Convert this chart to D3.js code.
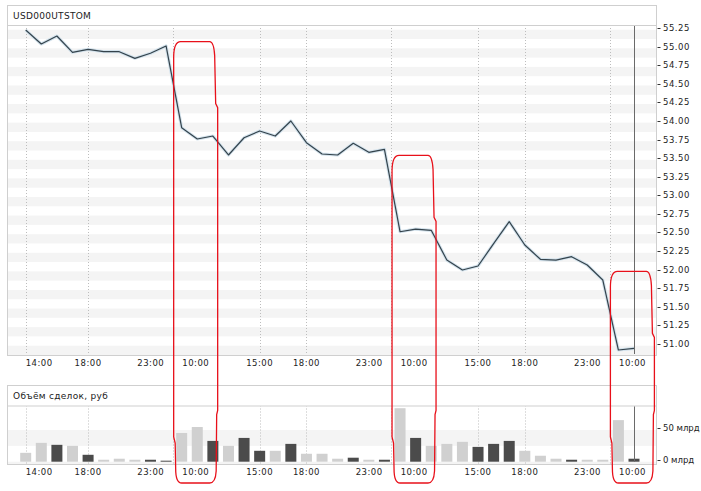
<!DOCTYPE html>
<html>
<head>
<meta charset="utf-8">
<script src="https://cdn.jsdelivr.net/npm/d3@7"></script>
<style>
  body { margin: 0; background: #fff; }
  svg { display: block; }
  text { font-family: "DejaVu Sans", sans-serif; fill: #222; }
</style>
</head>
<body>
<div id="chart"></div>
<script>
// hourly closes USD000UTSTOM
const closes = [
  55.245, 55.058, 55.165, 54.946, 54.986, 54.954, 54.954, 54.865, 54.933, 55.031,
  53.932, 53.780, 53.820, 53.565, 53.797, 53.888, 53.820, 54.022, 53.730, 53.578,
  53.565, 53.722, 53.601, 53.641, 52.533, 52.569, 52.552, 52.152, 52.018, 52.072,
  52.372, 52.668, 52.354, 52.162, 52.152, 52.197, 52.085, 51.883, 50.942, 50.965
];
// volume, bln rub
const volumes = [
  14, 29.7, 26.6, 25, 10.9, 3.1, 4.7, 3.1, 3.1, 1.6,
  45.3, 54.7, 32.8, 25, 37.5, 17.2, 17.2, 28.1, 12.5, 12.5,
  4.7, 6.3, 3.1, 3.1, 84.4, 37.5, 25, 28.1, 31.3, 23.4,
  28.1, 32.8, 17.2, 9.4, 4.7, 3.1, 3.1, 3.1, 65.6, 4.7
];
const dayHours = [
  [14, 15, 16, 17, 18, 19, 20, 21, 22, 23],
  [10, 11, 12, 13, 14, 15, 16, 17, 18, 19, 20, 21, 22, 23],
  [10, 11, 12, 13, 14, 15, 16, 17, 18, 19, 20, 21, 22, 23],
  [10, 11]
];
const tickHours = [14, 18, 23, 10, 15, 18, 23, 10, 15, 18, 23, 10];
const priceTicks = [51, 51.25, 51.5, 51.75, 52, 52.25, 52.5, 52.75, 53, 53.25, 53.5, 53.75,
                    54, 54.25, 54.5, 54.75, 55, 55.25];
const volTicks = [0, 50];
const hlStart = [10, 24, 38];
const hlTop = [55.09, 53.56, 52.0];

const bars = [];
dayHours.forEach((hrs, d) => hrs.forEach((h, k) => bars.push({day: d, hour: h, first: k === 0, last: k === hrs.length - 1})));

const W = 701, H = 491;
const L = 7, R = 656;
const main = {top: 5, head: 25, bottom: 355};
const vol = {top: 385, head: 405.5, bottom: 464};

const svg = d3.select("#chart").append("svg").attr("width", W).attr("height", H);

const x = d3.scaleLinear().domain([0, bars.length - 1]).range([25.7, 634]);
const step = x(1) - x(0);
const y = d3.scaleLinear().domain([51, 55.25]).range([345.7, 29.7]);
const yV = d3.scaleLinear().domain([0, 50]).range([461.7, 430]);

// ticks: which bar each label belongs to
let ti = 0;
const ticks = [];
bars.forEach((b, i) => {
  if (ti < tickHours.length && b.hour === tickHours[ti]) {
    let gx = x(i), anchor = "middle", lx = gx;
    if (i === 0) { anchor = "start"; lx = gx; }
    else if (b.last) { gx = x(i) + step * 0.43; anchor = "end"; lx = gx - 8.5; }
    else if (b.first) { gx = x(i - 1) + step * 0.43; anchor = "start"; lx = gx + 9.5; }
    ticks.push({label: String(b.hour).padStart(2, "0") + ":00", gx, lx, anchor, grid: !b.first || i === 0});
    ti++;
  }
});

const panel = (p, name) => {
  const g = svg.append("g");
  g.append("rect").attr("x", L + 0.5).attr("y", p.top + 0.5)
    .attr("width", R - L).attr("height", p.bottom - p.top)
    .attr("fill", "#fff").attr("stroke", "#cfcfcf");
  g.append("line").attr("x1", L).attr("x2", R + 1)
    .attr("y1", p.head + 0.5).attr("y2", p.head + 0.5).attr("stroke", "#cfcfcf");
  g.append("text").attr("x", L + 6).attr("y", (p.top + p.head) / 2 + 1)
    .attr("dominant-baseline", "central").attr("font-size", 9)
    .style("letter-spacing", "0.3px").text(name);
  const clipId = "c" + p.top;
  svg.append("clipPath").attr("id", clipId).append("rect")
    .attr("x", L + 1).attr("y", p.head + 1).attr("width", R - L - 1).attr("height", p.bottom - p.head - 1);
  return g.append("g").attr("clip-path", `url(#${clipId})`);
};

const pm = panel(main, "USD000UTSTOM");
const pv = panel(vol, "Объём  сделок, руб");

// stripes
pm.selectAll(".band").data(priceTicks).enter().append("rect")
  .attr("x", L).attr("width", R - L)
  .attr("y", d => y(d)).attr("height", y(0) - y(0.125))
  .attr("fill", "#f4f4f4");
pv.selectAll(".band").data(volTicks).enter().append("rect")
  .attr("x", L).attr("width", R - L)
  .attr("y", d => yV(d)).attr("height", yV(0) - yV(25))
  .attr("fill", "#f4f4f4");

// dotted verticals
[[pm, main], [pv, vol]].forEach(([g, p]) => {
  g.selectAll(".grid").data(ticks.filter(t => t.grid)).enter().append("line")
    .attr("x1", d => Math.round(d.gx) + 0.5).attr("x2", d => Math.round(d.gx) + 0.5)
    .attr("y1", p.head).attr("y2", p.bottom)
    .attr("stroke", "#bdbdbd").attr("stroke-dasharray", "1,2");
});

// price line
const line = d3.line().x((d, i) => x(i)).y(d => y(d));
pm.append("path").datum(closes).attr("d", line)
  .attr("fill", "none").attr("stroke", "#d3e2ec").attr("stroke-width", 3.2).attr("stroke-linejoin", "round");
pm.append("path").datum(closes).attr("d", line)
  .attr("fill", "none").attr("stroke", "#34434c").attr("stroke-width", 1.2).attr("stroke-linejoin", "round");

// volume bars
pv.selectAll(".bar").data(volumes).enter().append("rect")
  .attr("x", (d, i) => x(i) - 5.5).attr("width", 11)
  .attr("y", d => yV(d)).attr("height", d => yV(0) - yV(d))
  .attr("fill", (d, i) => i > 0 && closes[i] > closes[i - 1] ? "#4b4b4b" : "#d0d0d0");

// current marker
const last = bars.length - 1;
pm.append("line").attr("x1", Math.round(x(last)) + 0.5).attr("x2", Math.round(x(last)) + 0.5)
  .attr("y1", main.head).attr("y2", main.bottom - 1).attr("stroke", "#6a6a6a");
pv.append("line").attr("x1", Math.round(x(last)) + 0.5).attr("x2", Math.round(x(last)) + 0.5)
  .attr("y1", vol.head).attr("y2", yV(0)).attr("stroke", "#6a6a6a");

// y axis labels
const yAxisLabels = (vals, sc, fmt, ls) => {
  const g = svg.append("g");
  vals.forEach(v => {
    const yy = sc(v) - 1.7;
    g.append("line").attr("x1", R + 1.5).attr("x2", R + 4.5)
      .attr("y1", Math.round(yy) + 0.5).attr("y2", Math.round(yy) + 0.5).attr("stroke", "#333");
    g.append("text").attr("x", R + 7).attr("y", yy).attr("dominant-baseline", "central")
      .attr("font-size", 8.5).style("letter-spacing", ls).text(fmt(v));
  });
};
yAxisLabels(priceTicks, y, d3.format(".2f"), "0.5px");
yAxisLabels(volTicks, yV, v => v + " млрд", "0px");

// x axis labels
[main.bottom + 8, vol.bottom + 8].forEach(ly => {
  svg.append("g").selectAll("text").data(ticks).enter().append("text")
    .attr("x", d => d.lx).attr("y", ly).attr("text-anchor", d => d.anchor)
    .attr("dominant-baseline", "central").attr("font-size", 8.5)
    .style("letter-spacing", "0.5px").text(d => d.label);
});

// red highlights
const hl = svg.append("g").attr("fill", "none").attr("stroke", "#e8101a").attr("stroke-width", 1.3);
hlStart.forEach((s, k) => {
  const l = x(s) - 8, r = x(s) + 36, t = y(hlTop[k]), b = 483;
  const p = d3.path();
  p.moveTo(l, b - 46);
  p.lineTo(l, t + 16);
  p.bezierCurveTo(l, t + 6, l + 2, t, l + 7, t);
  p.lineTo(r - 8, t);
  p.bezierCurveTo(r - 5, t, r - 3.5, t + 6, r - 3, t + 14);
  p.lineTo(r - 2, t + 62);
  p.lineTo(r, t + 66);
  p.lineTo(r, vol.head + 5);
  p.lineTo(r - 1, vol.head + 9);
  p.lineTo(r - 1.5, b - 12);
  p.bezierCurveTo(r - 2, b - 3, r - 4, b, r - 8, b);
  p.lineTo(l + 8, b);
  p.bezierCurveTo(l + 4, b, l + 2, b - 4, l + 2, b - 14);
  p.lineTo(l + 1.5, b - 40);
  p.lineTo(l, b - 46);
  p.closePath();
  hl.append("path").attr("d", p.toString());
});
</script>
</body>
</html>
